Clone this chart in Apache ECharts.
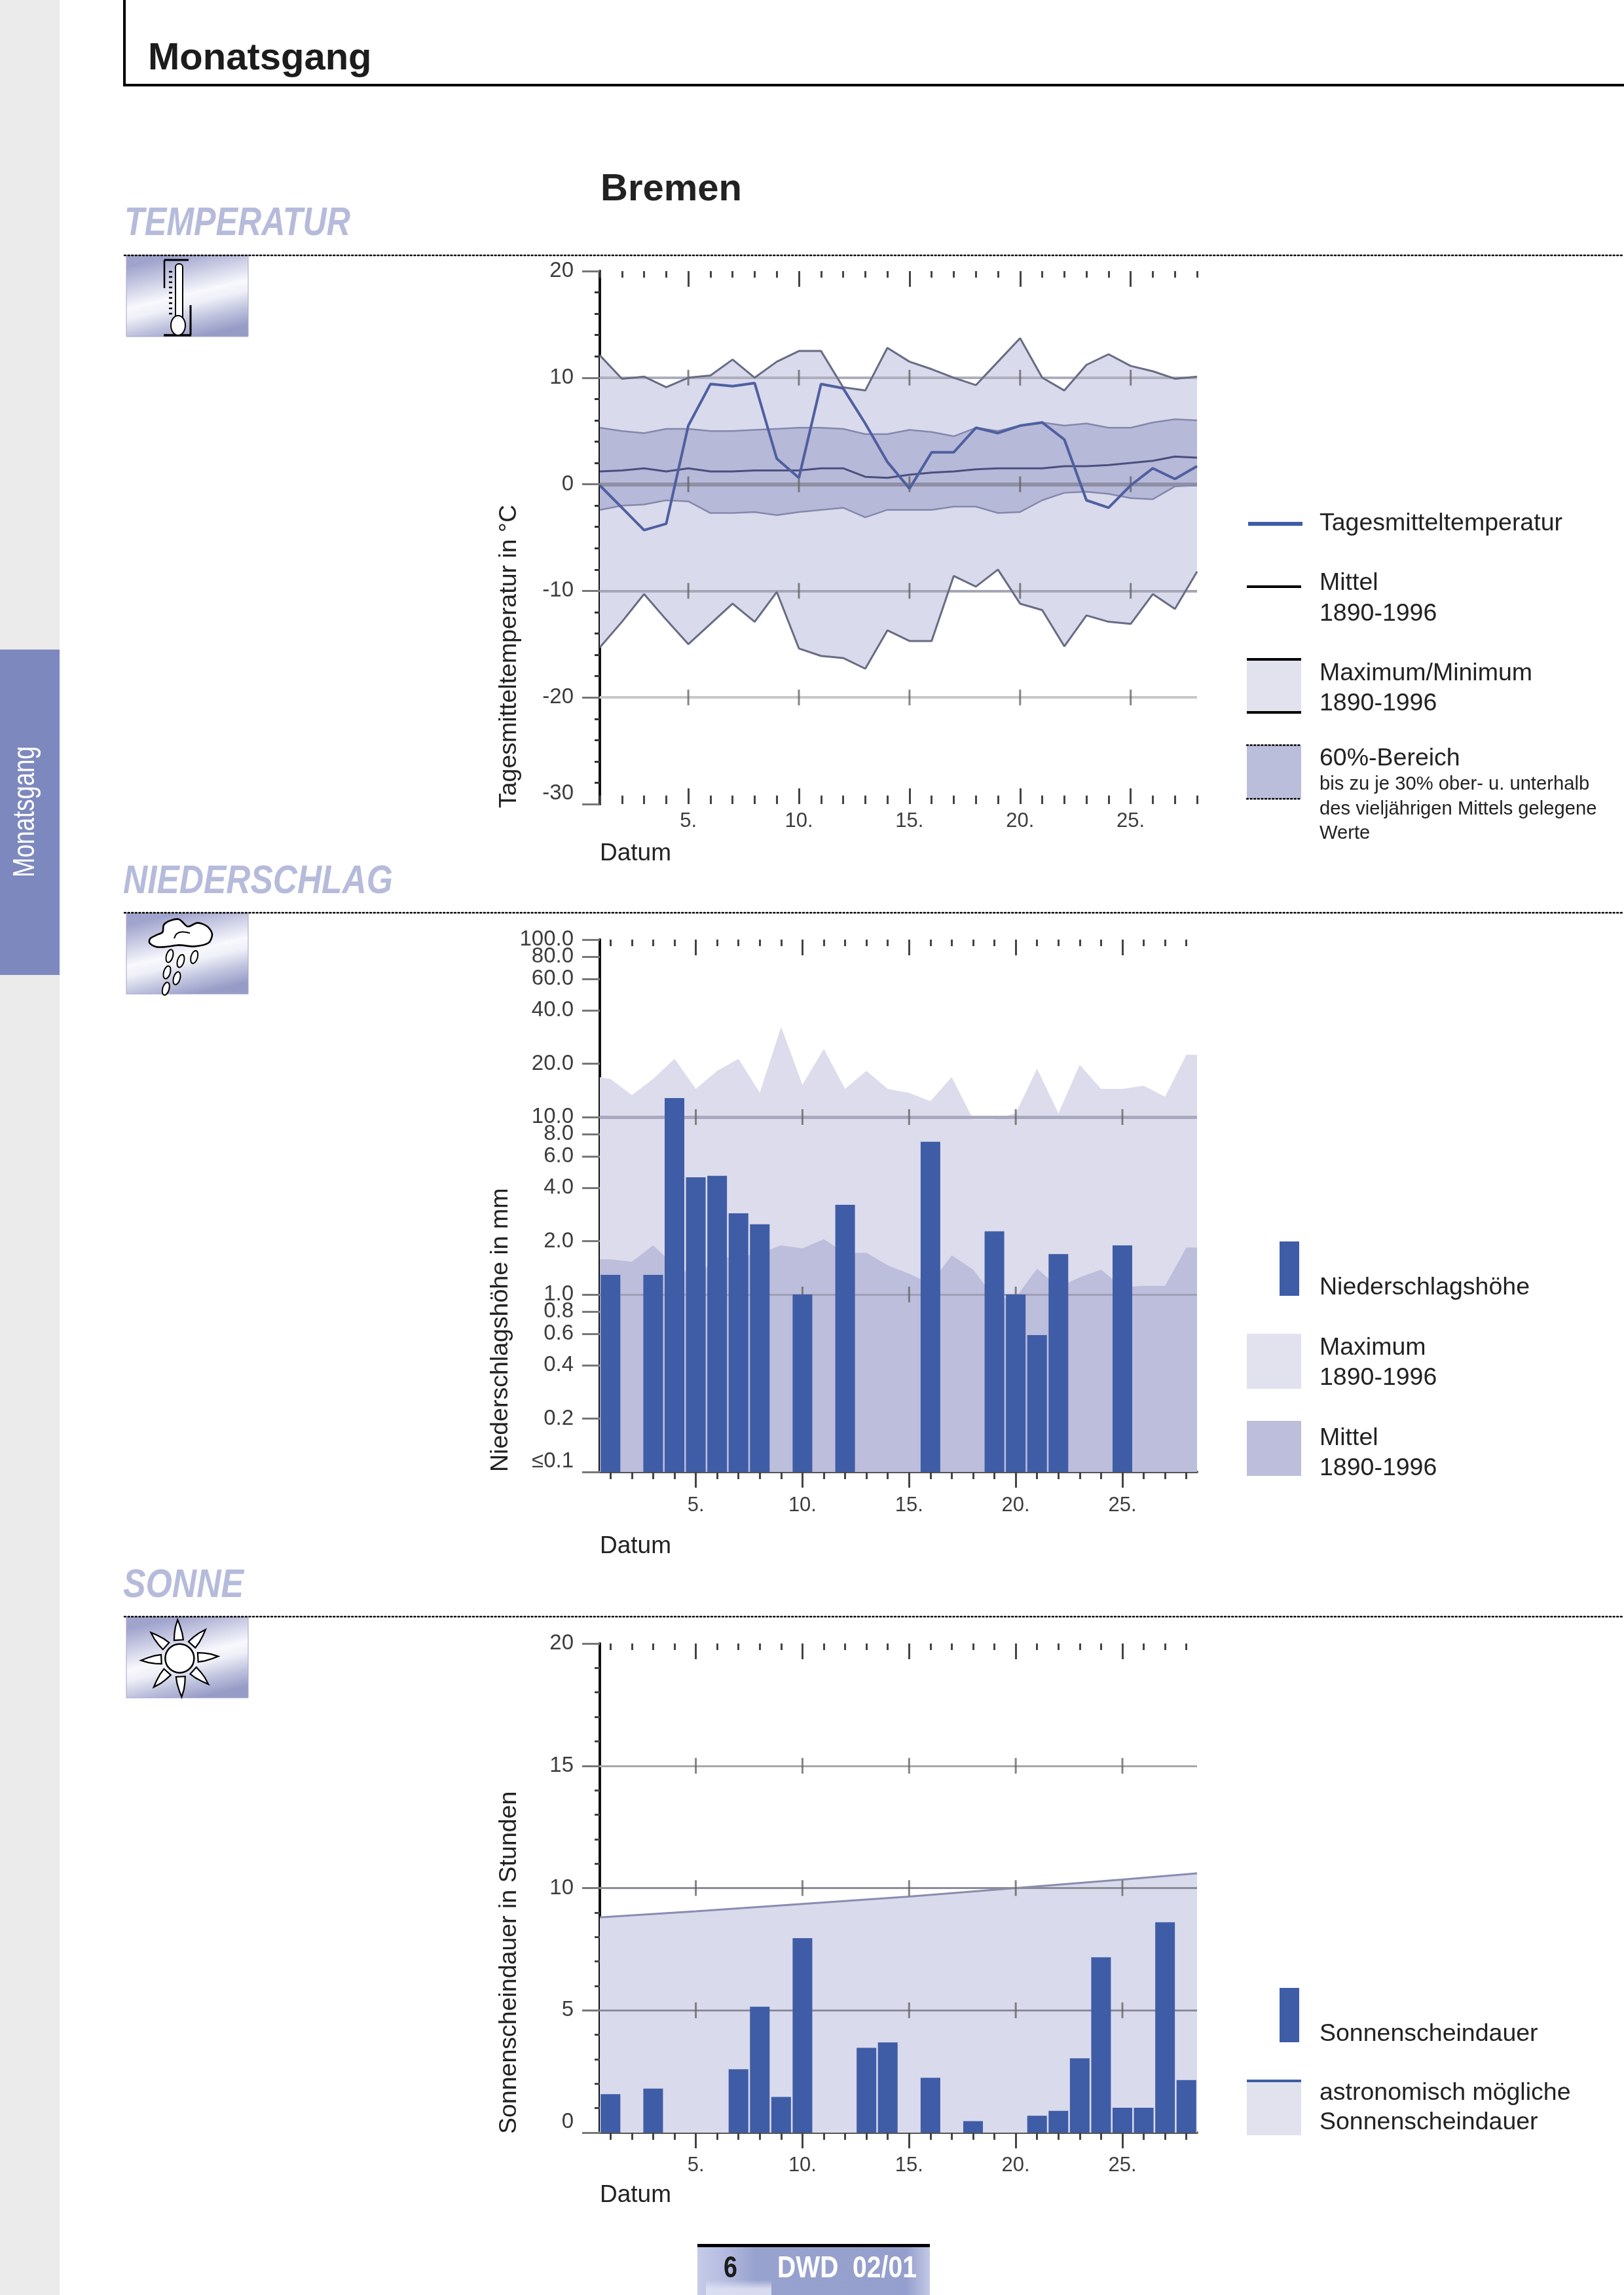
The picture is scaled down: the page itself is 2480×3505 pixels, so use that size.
<!DOCTYPE html>
<html><head><meta charset="utf-8"><title>Monatsgang Bremen</title>
<style>html,body{margin:0;padding:0;background:#fff}#c{width:2480px;height:3505px}</style>
<script src="https://cdn.jsdelivr.net/npm/echarts@6/dist/echarts.min.js"></script>
</head><body><div id="c"></div>
<script>
// ---------- data ----------
const days = ['1','2','3','4','5','6','7','8','9','10','11','12','13','14','15','16','17','18','19','20','21','22','23','24','25','26','27','28'];
const tempDaily = [-0.1,-2.2,-4.3,-3.7,5.5,9.4,9.2,9.5,2.4,0.6,9.4,9.0,5.7,2.1,-0.4,3.0,3.0,5.3,4.8,5.5,5.8,4.2,-1.5,-2.2,-0.1,1.5,0.5,1.7];
const tempMean = [1.2,1.3,1.5,1.2,1.5,1.2,1.2,1.3,1.3,1.3,1.5,1.5,0.7,0.6,0.9,1.1,1.2,1.4,1.5,1.5,1.5,1.7,1.7,1.8,2.0,2.2,2.6,2.5];
const tempMax = [12.1,9.9,10.1,9.1,10.0,10.2,11.7,10.0,11.5,12.5,12.5,9.1,8.8,12.8,11.5,10.8,10.0,9.3,11.5,13.7,10.0,8.8,11.2,12.2,11.1,10.6,9.9,10.1];
const tempMin = [-15.3,-12.9,-10.3,-12.7,-15.0,-13.1,-11.2,-12.9,-10.1,-15.4,-16.1,-16.3,-17.3,-13.7,-14.7,-14.7,-8.6,-9.6,-8.0,-11.2,-11.8,-15.2,-12.3,-12.9,-13.1,-10.3,-11.7,-8.2];
const temp60Upper = [5.3,5.0,4.8,5.2,5.2,5.0,5.0,5.1,5.2,5.3,5.3,5.2,4.7,4.7,5.1,4.9,4.5,5.3,5.0,5.5,5.8,5.5,5.7,5.3,5.3,5.8,6.1,6.0];
const temp60Lower = [-2.4,-2.0,-1.9,-1.5,-1.6,-2.7,-2.7,-2.6,-2.9,-2.6,-2.4,-2.2,-3.1,-2.4,-2.4,-2.4,-2.1,-2.1,-2.7,-2.6,-1.5,-0.8,-0.7,-0.9,-1.3,-1.4,-0.2,-0.1];
const precip = [1.29,null,1.29,12.8,4.58,4.66,2.87,2.49,null,1.0,null,3.2,null,null,null,7.25,null,null,2.27,1.0,0.59,1.69,null,null,1.89,null,null,null];
const edgeDays = [0.5,1,2,3,4,5,6,7,8,9,10,11,12,13,14,15,16,17,18,19,20,21,22,23,24,25,26,27,28,28.5];
const precipMax = [16.8,16.4,13.3,16.4,21.3,14.4,18.2,21.3,13.7,32.2,15.2,24.2,14.4,18.2,14.4,13.7,12.3,16.8,9.7,9.7,10.5,18.7,10.5,19.7,14.4,14.4,15.0,13.0,22.4,22.4];
const precipMean = [1.58,1.58,1.53,1.89,1.46,1.25,1.62,1.62,1.71,1.89,1.82,2.05,1.71,1.72,1.46,1.31,1.15,1.66,1.38,0.96,0.96,1.40,1.10,1.25,1.38,1.10,1.12,1.12,1.84,1.84];
const sun = [1.57,null,1.8,null,null,null,2.59,5.15,1.46,7.95,null,null,3.47,3.69,null,2.24,null,0.47,null,null,0.69,0.89,3.04,7.17,1.02,1.02,8.6,2.15];
const astroDays = [0.5,5,10,15,20,25,28.5];
const astro = [8.8,9.05,9.35,9.65,10.0,10.35,10.6];
const precipTicks = [0.1,0.2,0.4,0.6,0.8,1,2,4,6,8,10,20,40,60,100];
const precipTicksExtra = [80];
const tempGrid = [[10,'#aeaebd',4],[0,'#8f8fa6',6],[-10,'#a6a6b6',4],[-20,'#c8c8c8',4]];
const precipGrid = [[10,'#a8a8be',5],[1,'#a0a0b8',3]];
const sunGrid = [[15,'#a8a8a8',3],[10,'#8c8c98',3],[5,'#8c8c9c',3]];
const markedDays = ['5','10','15','20','25'];

// ---------- palette ----------
const FONT = '"Liberation Sans"';
const C = {light:'#d9daec', mid:'#b6b9d7', bar:'#3f5ca6', edge:'#686c84', edge60:'#8588ad', mean:'#4b4f7f', line:'#4f5fa0', ink:'#222222', label:'#3c3c3c'};
const is5 = (i,v)=>Number(v)%5===0;

// ---------- axes ----------
const grids=[], xAxes=[], yAxes=[], series=[];
function addGrid(top,bottomY,inside,margin,showBottomLine,boundary){
  const g=grids.length;
  grids.push({left:916,right:652,top:top,height:bottomY-top,containLabel:false});
  const base={type:'category',data:days,gridIndex:g,boundaryGap:boundary,axisLabel:{show:false},splitLine:{show:false}};
  const line={show:false,onZero:false};
  const idx=xAxes.length;
  xAxes.push(Object.assign({},base,{position:'bottom',
    axisLine:showBottomLine?{show:true,onZero:false,lineStyle:{color:'#555',width:4}}:line,
    axisTick:{show:true,inside:inside,length:inside?13:11,alignWithLabel:true,interval:0,lineStyle:{color:'#444',width:3}}}));
  xAxes.push(Object.assign({},base,{position:'bottom',axisLine:line,
    axisTick:{show:true,inside:inside,length:24,alignWithLabel:true,interval:is5,lineStyle:{color:'#444',width:3}},
    axisLabel:{show:true,interval:is5,formatter:v=>v+'.',margin:margin,fontFamily:FONT,fontSize:31,color:C.label}}));
  xAxes.push(Object.assign({},base,{position:'top',axisLine:line,
    axisTick:{show:true,inside:true,length:10,alignWithLabel:true,interval:0,lineStyle:{color:'#444',width:3}}}));
  xAxes.push(Object.assign({},base,{position:'top',axisLine:line,
    axisTick:{show:true,inside:true,length:24,alignWithLabel:true,interval:is5,lineStyle:{color:'#444',width:3}}}));
  xAxes.push({type:'value',gridIndex:g,min:0.5,max:28.5,show:false,splitLine:{show:false}});
  return {g,x:idx,top:idx+2,val:idx+4};
}
function yBase(g){return {gridIndex:g,position:'left',splitLine:{show:false},
  axisLine:{show:true,onZero:false,lineStyle:{color:'#111',width:4}},
  axisTick:{show:true,length:27,lineStyle:{color:'#777',width:3}},
  axisLabel:{margin:40,fontFamily:FONT,fontSize:33,color:C.label,hideOverlap:false,showMinLabel:true,showMaxLabel:true,verticalAlignMinLabel:'bottom'}};}
function gridMarks(grid){return {silent:true,symbol:'none',z:3,label:{show:false},
  data:grid.map(r=>({yAxis:r[0],lineStyle:{color:r[1],width:r[2],type:'solid'}}))};}
function crossTicks(ax,y,grid){const d=[];grid.forEach(r=>markedDays.forEach(m=>d.push([m,r[0]])));
  return {type:'scatter',xAxisIndex:ax.x,yAxisIndex:y,data:d,symbol:'rect',symbolSize:[3,24],silent:true,z:4,itemStyle:{color:'#666'}};}

// ---------- Temperatur ----------
const a1=addGrid(414,1228,true,11,false,false);
yAxes.push(Object.assign(yBase(a1.g),{type:'value',min:-30,max:20,interval:10,minorTick:{show:true,splitNumber:5,length:8,lineStyle:{color:'#333',width:3}}}));
function band(ax,y,lo,hi,fill,z,name){return {type:'custom',name:name,xAxisIndex:ax.x,yAxisIndex:y,z:z,silent:true,
  data:days.map((d,i)=>[d,lo[i],hi[i]]),encode:{x:0,y:[1,2]},
  renderItem:(p,api)=>{ if(p.dataIndex!==0) return null;
    const pts=[]; hi.forEach((v,i)=>pts.push(api.coord([i,v])));
    for(let i=lo.length-1;i>=0;i--) pts.push(api.coord([i,lo[i]]));
    return {type:'polygon',shape:{points:pts},style:{fill:fill}};}};}
function ln(ax,y,name,data,color,width,z,extra){return Object.assign({type:'line',name:name,xAxisIndex:ax.x,yAxisIndex:y,data:data,showSymbol:false,silent:true,z:z,
  lineStyle:{color:color,width:width},itemStyle:{color:color}},extra||{});}
series.push(band(a1,0,tempMin,tempMax,C.light,1,'Maximum/Minimum'));
series.push(band(a1,0,temp60Lower,temp60Upper,C.mid,2,'60%-Bereich'));
series.push(ln(a1,0,'Maximum',tempMax,C.edge,3,5,{markLine:gridMarks(tempGrid)}));
series.push(ln(a1,0,'Minimum',tempMin,C.edge,3,5));
series.push(ln(a1,0,'60% oben',temp60Upper,C.edge60,2.5,5));
series.push(ln(a1,0,'60% unten',temp60Lower,C.edge60,2.5,5));
series.push(ln(a1,0,'Mittel',tempMean,C.mean,3,5));
series.push(crossTicks(a1,0,tempGrid));
series.push(ln(a1,0,'Tagesmitteltemperatur',tempDaily,C.line,4,6));

// ---------- Niederschlag ----------
const a2=addGrid(1435,2248,false,36,true,true);
yAxes.push(Object.assign(yBase(a2.g),{type:'log',logBase:10,min:0.1,max:100,startValue:0.1,
  axisTick:{show:true,length:27,customValues:precipTicks,lineStyle:{color:'#777',width:3}},
  minorTick:{show:false},
  axisLabel:Object.assign(yBase(a2.g).axisLabel,{customValues:precipTicks,formatter:v=>v<=0.1001?'≤0.1':Number(v).toFixed(1)})}));
function area(ax,y,name,xs,vs,fill,z,extra){return Object.assign({type:'line',name:name,xAxisIndex:ax.val,yAxisIndex:y,
  data:xs.map((d,i)=>[d,vs[i]]),showSymbol:false,silent:true,z:z,lineStyle:{width:0},
  areaStyle:{color:fill,opacity:1,origin:'start'}},extra||{});}
series.push(area(a2,1,'Maximum 1890-1996',edgeDays,precipMax,'#dcdcec',1));
series.push(area(a2,1,'Mittel 1890-1996',edgeDays,precipMean,'#bcbedb',2,{markLine:gridMarks(precipGrid)}));
series.push(crossTicks(a2,1,precipGrid));
series.push({type:'bar',name:'Niederschlagshöhe',xAxisIndex:a2.x,yAxisIndex:1,data:precip,barWidth:30,z:6,silent:true,itemStyle:{color:C.bar}});

// ---------- Sonne ----------
const a3=addGrid(2510,3257,false,35,true,true);
yAxes.push(Object.assign(yBase(a3.g),{type:'value',min:0,max:20,interval:5,minorTick:{show:true,splitNumber:5,length:8,lineStyle:{color:'#444',width:3}}}));
series.push(area(a3,2,'astronomisch mögliche Sonnenscheindauer',astroDays,astro,C.light,1,{lineStyle:{width:3,color:'#8a8cb0'},markLine:gridMarks(sunGrid)}));
series.push(crossTicks(a3,2,sunGrid));
series.push({type:'bar',name:'Sonnenscheindauer',xAxisIndex:a3.x,yAxisIndex:2,data:sun,barWidth:30,z:6,silent:true,itemStyle:{color:C.bar}});

// extra log axis carrying the 80.0 tick, which sits too close to the axis end on the main one
const base80=yBase(a2.g);
yAxes.push(Object.assign(base80,{type:'log',logBase:10,min:0.1,max:100,axisLine:{show:false,onZero:false},
  axisTick:{show:true,length:27,customValues:precipTicksExtra,lineStyle:{color:'#777',width:3}},
  axisLabel:Object.assign(base80.axisLabel,{customValues:precipTicksExtra,showMinLabel:false,showMaxLabel:false,verticalAlignMinLabel:'middle',formatter:v=>Number(v).toFixed(1)})}));

// ---------- page furniture ----------
const gfx=[];
function T(x,b,s,size,o){o=o||{};const weight=o.bold?'bold ':'',it=o.italic?'italic ':'';
  gfx.push({type:'text',x:x,y:b-0.27*size,scaleX:o.sx||1,z:o.z||10,silent:true,
    style:{text:s,font:it+weight+size+'px '+FONT,fill:o.fill||C.ink,verticalAlign:'middle',align:'left'}});}
function R(x,y,w,h,fill,z){gfx.push({type:'rect',shape:{x:x,y:y,width:w,height:h},style:{fill:fill},z:z||9,silent:true});}
function L(x1,y1,x2,y2,color,w,dash){gfx.push({type:'line',shape:{x1,y1,x2,y2},style:{stroke:color,lineWidth:w,lineDash:dash||null,lineCap:dash?'round':'butt'},z:10,silent:true});}
function Rot(x,y,s,size,o){o=o||{};gfx.push({type:'text',x:x,y:y,rotation:Math.PI/2,scaleX:o.sx||1,z:10,silent:true,
  style:{text:s,font:size+'px '+FONT,fill:o.fill||C.ink,verticalAlign:'middle',align:'left'}});}

R(0,0,91,3505,'#ebebeb',1); R(0,992,91,497,'#7d88bf',2);
Rot(39,1340,'Monatsgang',47,{fill:'#fff',sx:0.775});
L(190,0,190,131,'#000',4); L(188,130,2480,130,'#000',4);
T(226,106,'Monatsgang',58,{bold:1,fill:'#1c1c1c'});
T(917,306,'Bremen',58,{bold:1});

const hdr='#b6bbdb';
[[190,359,'TEMPERATUR',.81,390,390,514],[188,1364,'NIEDERSCHLAG',.83,1394,1395,1518],[188,2439,'SONNE',.835,2469,2470,2593]].forEach(h=>{
  T(h[0],h[1],h[2],62,{bold:1,italic:1,fill:hdr,sx:h[3]});
  L(190,h[4],2480,h[4],'#000',2.5,[2,3.6]);
  gfx.push({type:'rect',shape:{x:193,y:h[5],width:186,height:h[6]-h[5]},z:9,silent:true,style:{stroke:'#a2a5ca',lineWidth:1,fill:{type:'linear',x:0.42,y:0,x2:0.58,y2:1,colorStops:[
    {offset:0,color:'#a0a4cd'},{offset:.22,color:'#c8cae3'},{offset:.48,color:'#f8f8fd'},{offset:.6,color:'#eff0f8'},{offset:.8,color:'#c0c3de'},{offset:1,color:'#979cc7'}]}}});
});
// thermometer icon
L(251,397,288,397,'#000',3); L(251,397,251,440,'#000',2.5);
L(250,512,292,512,'#000',3.5); L(291,466,291,512,'#000',3);
gfx.push({type:'rect',shape:{x:268,y:403,width:11,height:88,r:5},style:{fill:'#fff',stroke:'#000',lineWidth:2},z:11,silent:true});
gfx.push({type:'ellipse',shape:{cx:272,cy:497,rx:11,ry:15},style:{fill:'#fff',stroke:'#000',lineWidth:2},z:11,silent:true});
L(274,434,274,486,'#000',2.5);
[415,423,431,439,447,455,463,471,479].forEach(y=>L(258,y,263,y,'#000',2.5));
// cloud icon (local px = zoom/3)
const cloudPts=[[178,430],[205,415],[235,400],[240,368],[270,348],[310,342],[350,375],[395,358],[440,375],[462,410],[445,450],[380,466],[310,460],[250,468],[205,468],[175,450]];
gfx.push({type:'polygon',x:170,y:1290,scaleX:1/3,scaleY:1/3,z:11,silent:true,shape:{points:cloudPts,smooth:0.3},style:{fill:'#fff',stroke:'#000',lineWidth:8}});
gfx.push({type:'polyline',x:170,y:1290,scaleX:1/3,scaleY:1/3,z:12,silent:true,shape:{points:[[288,430],[300,408],[325,400],[360,405]],smooth:0.4},style:{fill:null,stroke:'#000',lineWidth:6}});
[[267,510],[318,533],[380,515],[255,585],[300,612],[250,660]].forEach(p=>{
  gfx.push({type:'ellipse',x:170+p[0]/3,y:1290+p[1]/3,rotation:-0.28,shape:{cx:0,cy:0,rx:5,ry:10},style:{fill:'#fff',stroke:'#000',lineWidth:2},z:11,silent:true});});
// sun icon
const sx=170+313/3, sy=2360+518/3;
gfx.push({type:'circle',shape:{cx:sx,cy:sy,r:22},style:{fill:'#fff',stroke:'#000',lineWidth:2.5},z:11,silent:true});
[0,45,90,135,180,225,270,315].forEach(a=>{
  gfx.push({type:'polygon',x:sx,y:sy,rotation:-(a-3)*Math.PI/180,z:11,silent:true,
    shape:{points:[[-7,-28],[7,-28],[6,-38],[3,-50],[0,-59],[-4,-48],[-6,-38]]},style:{fill:'#fff',stroke:'#000',lineWidth:2.2}});});

// legends
const lf=37.5, sf=29.2, tx=2015;
L(1906,800,1989,800,'#3f5ca6',6); T(tx,810,'Tagesmitteltemperatur',lf);
L(1904,896,1987,896,'#000',4); T(tx,901,'Mittel',lf); T(tx,948,'1890-1996',lf);
R(1904,1007,83,81,'#e1e2ee'); L(1904,1007,1987,1007,'#000',4); L(1904,1088,1987,1088,'#000',4);
T(tx,1039,'Maximum/Minimum',lf); T(tx,1085,'1890-1996',lf);
R(1904,1138,83,82,'#bbbedb'); L(1904,1138,1987,1138,'#000',2.5,[2,3.6]); L(1904,1220,1987,1220,'#000',2.5,[2,3.6]);
T(tx,1169,'60%-Bereich',lf); T(tx,1206,'bis zu je 30% ober- u. unterhalb',sf); T(tx,1244,'des vieljährigen Mittels gelegene',sf); T(tx,1281,'Werte',sf);
R(1954,1896,30,83,C.bar); T(tx,1977,'Niederschlagshöhe',lf);
R(1904,2037,83,84,'#e1e2ee'); T(tx,2069,'Maximum',lf); T(tx,2115,'1890-1996',lf);
R(1904,2170,83,84,'#bcbedb'); T(tx,2207,'Mittel',lf); T(tx,2253,'1890-1996',lf);
R(1954,3036,30,83,C.bar); T(tx,3117,'Sonnenscheindauer',lf);
R(1904,3176,83,85,'#e1e2ee'); L(1904,3178,1987,3178,'#3f5ca6',4); T(tx,3207,'astronomisch mögliche',lf); T(tx,3252,'Sonnenscheindauer',lf);

// axis titles
Rot(778,1234,'Tagesmitteltemperatur in °C',37.5); Rot(765,2248,'Niederschlagshöhe in mm',37.5); Rot(778,3259,'Sonnenscheindauer in Stunden',37.5);
T(916,1314,'Datum',37); T(916,2372,'Datum',37); T(916,3363,'Datum',37);

// footer
R(1065,3427,355,5,'#000',9);
gfx.push({type:'rect',shape:{x:1065,y:3432,width:355,height:73},silent:true,z:8,style:{fill:{type:'linear',x:0,y:0,x2:1,y2:0,colorStops:[
  {offset:0,color:'#c6cbe8'},{offset:.12,color:'#b4bbe0'},{offset:.25,color:'#98a2ce'},{offset:.9,color:'#959fcd'},{offset:1,color:'#c3c9e6'}]}}});
gfx.push({type:'rect',shape:{x:1078,y:3482,width:100,height:23},silent:true,z:8.5,style:{fill:{type:'linear',x:0,y:0,x2:0,y2:1,colorStops:[
  {offset:0,color:'rgba(222,225,243,0)'},{offset:.6,color:'rgba(222,225,243,0.9)'},{offset:1,color:'rgba(222,225,243,0.9)'}]}}});
T(1105,3478,'6',46,{bold:1,fill:'#1c1c1c',sx:.82});
T(1187,3478,'DWD  02/01',46,{bold:1,fill:'#fff',sx:.85});

const chart=echarts.init(document.getElementById('c'),null,{width:2480,height:3505,renderer:'canvas'});
chart.setOption({animation:false,backgroundColor:'#fff',tooltip:{show:false},grid:grids,xAxis:xAxes,yAxis:yAxes,series:series,graphic:{elements:gfx}});
</script></body></html>
